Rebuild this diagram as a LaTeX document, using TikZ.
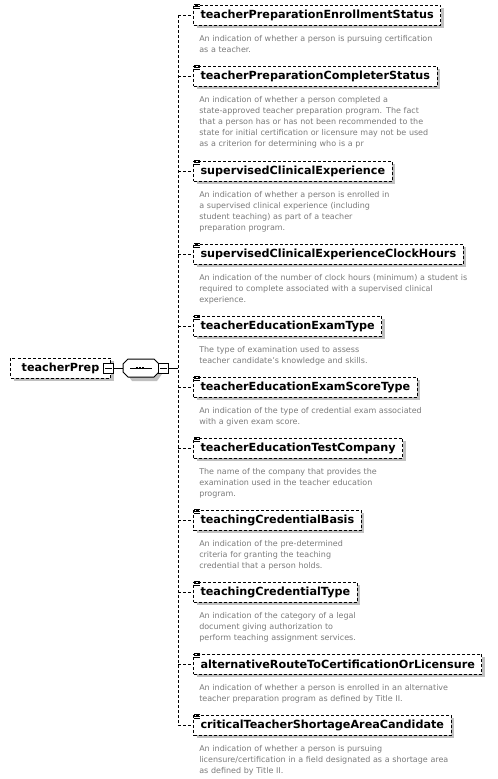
\documentclass[tikz,border=0pt]{standalone}
\usepackage{fontspec}
\setmainfont{DejaVu Sans}
\usetikzlibrary{shadows, positioning, calc}
\definecolor{shadowgray}{RGB}{192,192,192}
\definecolor{descgray}{RGB}{122,122,122}

\tikzset{
  dashbox/.style={draw=black, line width=0.75pt, dash pattern=on 2.25pt off 1.5pt},
  elem/.style={dashbox, fill=white, anchor=west, minimum height=15pt, inner xsep=5.25pt, inner ysep=0pt,
    font=\fontsize{8.4}{10}\selectfont\bfseries,
    general shadow={fill=shadowgray, shadow xshift=2.25pt, shadow yshift=-2.25pt}},
  desc/.style={anchor=base west, inner sep=0pt, text width=260pt, align=left, text=descgray,
    font=\fontsize{6}{8.25}\selectfont},
  conn/.style={dashbox},
  wire/.style={draw=black, line width=0.75pt},
  btn/.style={wire, fill=white, minimum size=7.5pt, inner sep=0pt},
}

\begin{document}
\begin{tikzpicture}[x=0.75pt, y=-0.75pt]
        \useasboundingbox (0,0) rectangle (497,779);

        % Root element and sequence
        \node[elem, minimum width=75pt] (root) at (10,368) {teacherPrep};
        \node[btn] (rootbtn) at (108.5,368) {};
        \draw[wire] ([xshift=1.5pt]rootbtn.west) -- ([xshift=-1.5pt]rootbtn.east);

        \node[inner sep=0pt, minimum width=27pt, minimum height=13.5pt] (seq) at (141.5,368) {};
        \fill[shadowgray] (127,368) -- (132,362) -- (157,362) -- (162,368) -- (162,374) -- (157,381) -- (132,381) -- (127,374) -- cycle;
        \draw[wire, fill=white] (123,364) -- (128,359) -- (154,359) -- (159,364) -- (159,372) -- (154,377) -- (128,377) -- (123,372) -- cycle;
        \draw[wire] (130,368) -- (152,368);
        \foreach \d in {137,140,143} {
            \fill (\d-1,367) rectangle ++(2,2);
        }
        \node[btn] (seqbtn) at (163.5,368) {};
        \draw[wire] ([xshift=1.5pt]seqbtn.west) -- ([xshift=-1.5pt]seqbtn.east);
        \draw[wire] (rootbtn.east) -- (seq.west);

        % Child elements
        \node[elem] (enroll) at (193,15) {teacherPreparationEnrollmentStatus};
        \node[desc] (enrolld) at (199,41) {An indication of whether a person is pursuing certification\\as a teacher.};

        \node[elem] (completer) at (193,76) {teacherPreparationCompleterStatus};
        \node[desc] (completerd) at (199,102) {An indication of whether a person completed a\\state-approved teacher preparation program. The fact\\that a person has or has not been recommended to the\\state for initial certification or licensure may not be used\\as a criterion for determining who is a pr};

        \node[elem] (clinical) at (193,171) {supervisedClinicalExperience};
        \node[desc] (clinicald) at (199,197) {An indication of whether a person is enrolled in\\a supervised clinical experience (including\\student teaching) as part of a teacher\\preparation program.};

        \node[elem] (hours) at (193,254) {supervisedClinicalExperienceClockHours};
        \node[desc] (hoursd) at (199,280) {An indication of the number of clock hours (minimum) a student is\\required to complete associated with a supervised clinical\\experience.};

        \node[elem] (examtype) at (193,326) {teacherEducationExamType};
        \node[desc] (examtyped) at (199,352) {The type of examination used to assess\\teacher candidate's knowledge and skills.};

        \node[elem] (score) at (193,387) {teacherEducationExamScoreType};
        \node[desc] (scored) at (199,413) {An indication of the type of credential exam associated\\with a given exam score.};

        \node[elem] (company) at (193,448) {teacherEducationTestCompany};
        \node[desc] (companyd) at (199,474) {The name of the company that provides the\\examination used in the teacher education\\program.};

        \node[elem] (basis) at (193,520) {teachingCredentialBasis};
        \node[desc] (basisd) at (199,546) {An indication of the pre-determined\\criteria for granting the teaching\\credential that a person holds.};

        \node[elem] (credtype) at (193,592) {teachingCredentialType};
        \node[desc] (credtyped) at (199,618) {An indication of the category of a legal\\document giving authorization to\\perform teaching assignment services.};

        \node[elem] (altroute) at (193,664) {alternativeRouteToCertificationOrLicensure};
        \node[desc] (altrouted) at (199,690) {An indication of whether a person is enrolled in an alternative\\teacher preparation program as defined by Title II.};

        \node[elem] (shortage) at (193,725) {criticalTeacherShortageAreaCandidate};
        \node[desc] (shortaged) at (199,751) {An indication of whether a person is pursuing\\licensure/certification in a field designated as a shortage area\\as defined by Title II.};

        % Connectors
        \coordinate (spine) at (178,0);
        \draw[wire] (seqbtn.east) -- (spine |- seqbtn.east);
        \draw[conn] (spine |- enroll.west) -- (spine |- shortage.west);
        \foreach \n in {enroll,completer,clinical,hours,examtype,score,company,basis,credtype,altroute,shortage} {
            \draw[conn] (spine |- \n.west) -- (\n.west);
            \foreach \k in {0,2,4} {
                \draw[wire] ([shift={(1,\k)}]\n.north west) -- ++(6,0);
            }
        }
    \end{tikzpicture}
\end{document}
